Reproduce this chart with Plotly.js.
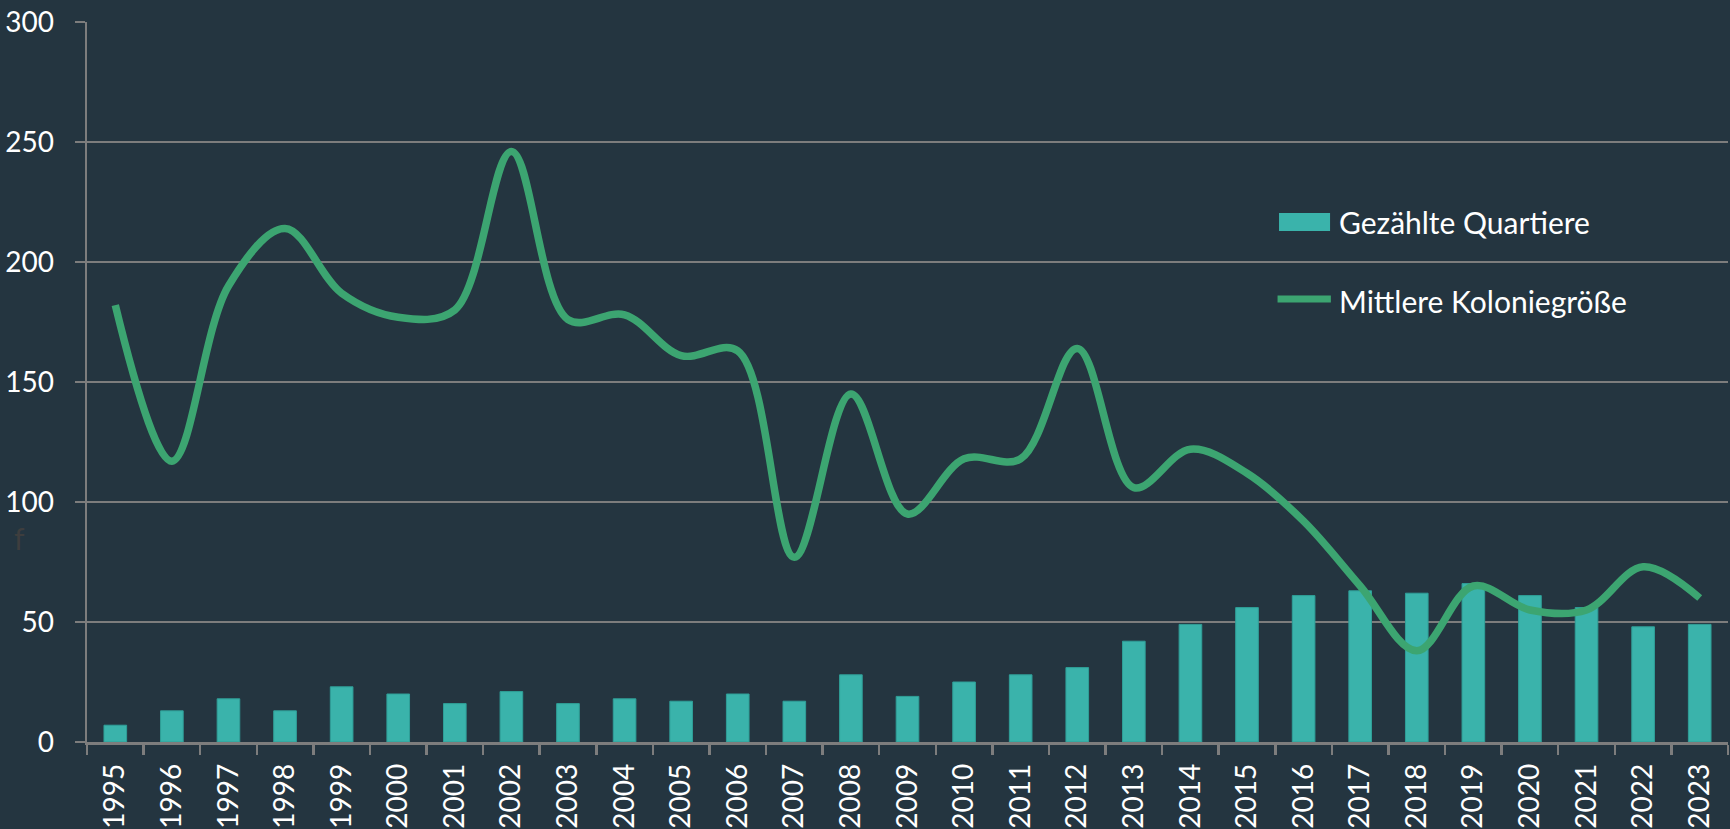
<!DOCTYPE html>
<html>
<head>
<meta charset="utf-8">
<script src="https://cdn.plot.ly/plotly-3.0.1.min.js"></script>
<style>
html,body{margin:0;padding:0;background:#243540;}
#chart{width:1730px;height:829px;}
</style>
</head>
<body>
<div id="chart"></div>
<script>
var years = ["1995","1996","1997","1998","1999","2000","2001","2002","2003","2004","2005","2006","2007","2008","2009","2010","2011","2012","2013","2014","2015","2016","2017","2018","2019","2020","2021","2022","2023"];
var quartiere = [7,13,18,13,23,20,16,21,16,18,17,20,17,28,19,25,28,31,42,49,56,61,63,62,66,61,56,48,49];
var kolonie = [182,117,190,214,187,177,180,246,176,178,161,163,77,145,95,118,118,164,106,122,112,92,65,38,65,55,55,73,60];
var nameBars = "Gezählte Quartiere";
var nameLine = "Mittlere Koloniegröße";
var yTicks = [0,50,100,150,200,250,300];

var bg = "#243540";
var gridCol = "#7d7d7d";
var barCol = "#3ab3ab";
var lineCol = "#3ca571";
var fontFam = "Lato, 'Open Sans', sans-serif";

var traces = [
  {
    type: "bar", x: years, y: quartiere, name: nameBars,
    marker: {color: barCol, line: {color: "#2f9f98", width: 1}},
    width: 0.4, hoverinfo: "x+y"
  },
  {
    type: "scatter", mode: "lines", x: years, y: kolonie, name: nameLine,
    line: {color: lineCol, width: 7.5, shape: "spline", smoothing: 1},
    hoverinfo: "x+y"
  }
];

var layout = {
  width: 1730, height: 829,
  paper_bgcolor: bg, plot_bgcolor: bg,
  margin: {l: 87, r: 2, t: 22, b: 87},
  showlegend: false,
  font: {family: fontFam, color: "#ffffff", size: 28},
  xaxis: {
    type: "category", tickson: "boundaries",
    ticks: "outside", ticklen: 10, tickwidth: 2.5, tickcolor: gridCol,
    showline: true, linecolor: gridCol, linewidth: 2.5,
    showgrid: false, tickangle: -90,
    tickfont: {family: fontFam, size: 28, color: "#ffffff"},
    ticklabelstandoff: 8
  },
  yaxis: {
    range: [0, 300], tickvals: yTicks, ticktext: yTicks.map(String),
    ticks: "outside", ticklen: 10, tickwidth: 2.5, tickcolor: gridCol,
    showline: true, linecolor: gridCol, linewidth: 2.5,
    showgrid: true, gridcolor: gridCol, gridwidth: 2.5,
    zeroline: false,
    tickfont: {family: fontFam, size: 28, color: "#ffffff"},
    ticklabelstandoff: 15
  },
  shapes: [
    {type: "rect", xref: "paper", yref: "paper", x0: 0.7264, x1: 0.7575, y0: 0.7097, y1: 0.7347,
     fillcolor: barCol, line: {width: 0}},
    {type: "line", xref: "paper", yref: "paper", x0: 0.7255, x1: 0.7580, y0: 0.6153, y1: 0.6153,
     line: {color: lineCol, width: 7}}
  ],
  annotations: [
    {xref: "paper", yref: "paper", x: 0.7617, y: 0.7222, xanchor: "left", yanchor: "middle",
     text: nameBars, showarrow: false, font: {family: fontFam, size: 30, color: "#ffffff"}},
    {xref: "paper", yref: "paper", x: 0.7617, y: 0.6125, xanchor: "left", yanchor: "middle",
     text: nameLine, showarrow: false, font: {family: fontFam, size: 30, color: "#ffffff"}},
    {xref: "paper", yref: "paper", x: -0.041, y: 0.283, xanchor: "center", yanchor: "middle",
     text: "f", showarrow: false, font: {family: fontFam, size: 30, color: "#3e3e3e"}}
  ]
};

Plotly.newPlot("chart", traces, layout, {displayModeBar: false, staticPlot: true});
</script>
</body>
</html>
